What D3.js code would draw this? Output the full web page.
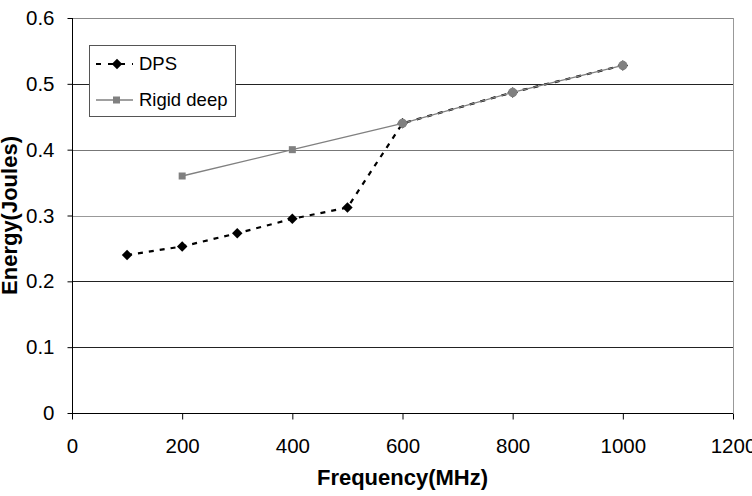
<!DOCTYPE html>
<html><head><meta charset="utf-8">
<script src="https://cdn.jsdelivr.net/npm/d3@7"></script>
<style>body{margin:0;background:#fff}svg{display:block;font-family:Arial,"Liberation Sans",sans-serif}</style>
</head><body><svg id="c" width="752" height="496"></svg>
<script>
const xTicks=[0,200,400,600,800,1000,1200];
const yTicks=[0,0.1,0.2,0.3,0.4,0.5,0.6];
const dpsX=[100,200,300,400,500,600,800,1000];
const dpsY=[0.240,0.253,0.273,0.295,0.312,0.440,0.487,0.528];
const rigidX=[200,400,600,800,1000];
const rigidY=[0.360,0.400,0.440,0.487,0.528];
const gridColors=["#000","#222","#222","#999","#777","#222","#888"];

const svg=d3.select("#c");
const m={l:72,r:733,t:18,b:413};
const x=d3.scaleLinear().domain([0,1200]).range([m.l,m.r]);
const y=d3.scaleLinear().domain([0,0.6]).range([m.b,m.t]);

// grid
svg.append("g").selectAll("line").data(yTicks.slice(1)).join("line")
 .attr("x1",m.l).attr("x2",m.r).attr("y1",d=>Math.round(y(d))+0.5).attr("y2",d=>Math.round(y(d))+0.5)
 .attr("stroke",(d,i)=>gridColors[i+1]).attr("stroke-width",1);
// right border
svg.append("line").attr("x1",m.r+0.5).attr("x2",m.r+0.5).attr("y1",m.t).attr("y2",m.b).attr("stroke","#999");

// axes
const yAxis=svg.append("g").attr("transform",`translate(${m.l+0.5},0)`)
 .call(d3.axisLeft(y).tickValues(yTicks).tickFormat(d=>d===0?"0":d3.format(".1f")(d)).tickSize(5).tickPadding(13));
const xAxis=svg.append("g").attr("transform",`translate(0,${m.b+0.5})`)
 .call(d3.axisBottom(x).tickValues(xTicks).tickFormat(d3.format("d")).tickSize(6).tickPadding(19));
[xAxis,yAxis].forEach(a=>{a.select(".domain").attr("stroke","#000");a.selectAll(".tick line").attr("stroke","#000");
 a.selectAll("text").attr("font-size",20.5).attr("fill","#000").attr("font-family","Arial,'Liberation Sans',sans-serif");});
xAxis.select(".domain").attr("d",`M${m.l},0H${m.r}`);
yAxis.select(".domain").attr("d",`M0,${m.t}V${m.b}`);

// DPS series
const dps=dpsX.map((v,i)=>[v,dpsY[i]]);
const rig=rigidX.map((v,i)=>[v,rigidY[i]]);
const line=d3.line().x(d=>x(d[0])).y(d=>y(d[1]));
svg.append("path").datum(dps).attr("d",line).attr("fill","none").attr("stroke","#000").attr("stroke-width",2.2).attr("stroke-dasharray","5,6");
const diamond=d3.symbol().type(d3.symbolDiamond2).size(70);
svg.append("g").selectAll("path").data(dps).join("path").attr("d",diamond)
 .attr("transform",d=>`translate(${x(d[0])},${y(d[1])})`).attr("fill","#000");

// Rigid deep
svg.append("path").datum(rig).attr("d",line).attr("fill","none").attr("stroke","#808080").attr("stroke-width",1.3);
const shared=rig.filter(r=>dps.some(p=>p[0]===r[0]&&p[1]===r[1]));
svg.append("g").selectAll("rect").data(rig.filter(r=>!shared.includes(r))).join("rect")
 .attr("x",d=>x(d[0])-3.5).attr("y",d=>y(d[1])-3.5).attr("width",7).attr("height",7).attr("fill","#808080");
svg.append("g").selectAll("circle").data(shared).join("circle")
 .attr("cx",d=>x(d[0])).attr("cy",d=>y(d[1])).attr("r",4.6).attr("fill","#808080");

// legend
const lg=svg.append("g");
lg.append("rect").attr("x",89.5).attr("y",45.5).attr("width",146).attr("height",71).attr("fill","#fff").attr("stroke","#555");
lg.append("line").attr("x1",96).attr("x2",133).attr("y1",64).attr("y2",64).attr("stroke","#000").attr("stroke-width",2.2).attr("stroke-dasharray","5,7");
lg.append("path").attr("d",diamond).attr("transform","translate(117,64)").attr("fill","#000");
lg.append("text").attr("x",139).attr("y",64).attr("dy","0.35em").attr("font-size",18.5).text("DPS");
lg.append("line").attr("x1",96).attr("x2",133).attr("y1",100).attr("y2",100).attr("stroke","#808080").attr("stroke-width",1.3);
lg.append("rect").attr("x",113).attr("y",96.5).attr("width",7).attr("height",7).attr("fill","#808080");
lg.append("text").attr("x",139).attr("y",100).attr("dy","0.35em").attr("font-size",18.5).text("Rigid deep");

// titles
svg.append("text").attr("x",(m.l+m.r)/2).attr("y",485).attr("text-anchor","middle").attr("font-size",22).attr("font-weight","bold").text("Frequency(MHz)");
svg.append("text").attr("transform",`translate(17,${(m.t+m.b)/2}) rotate(-90)`).attr("text-anchor","middle").attr("font-size",22).attr("font-weight","bold").text("Energy(Joules)");
</script></body></html>
